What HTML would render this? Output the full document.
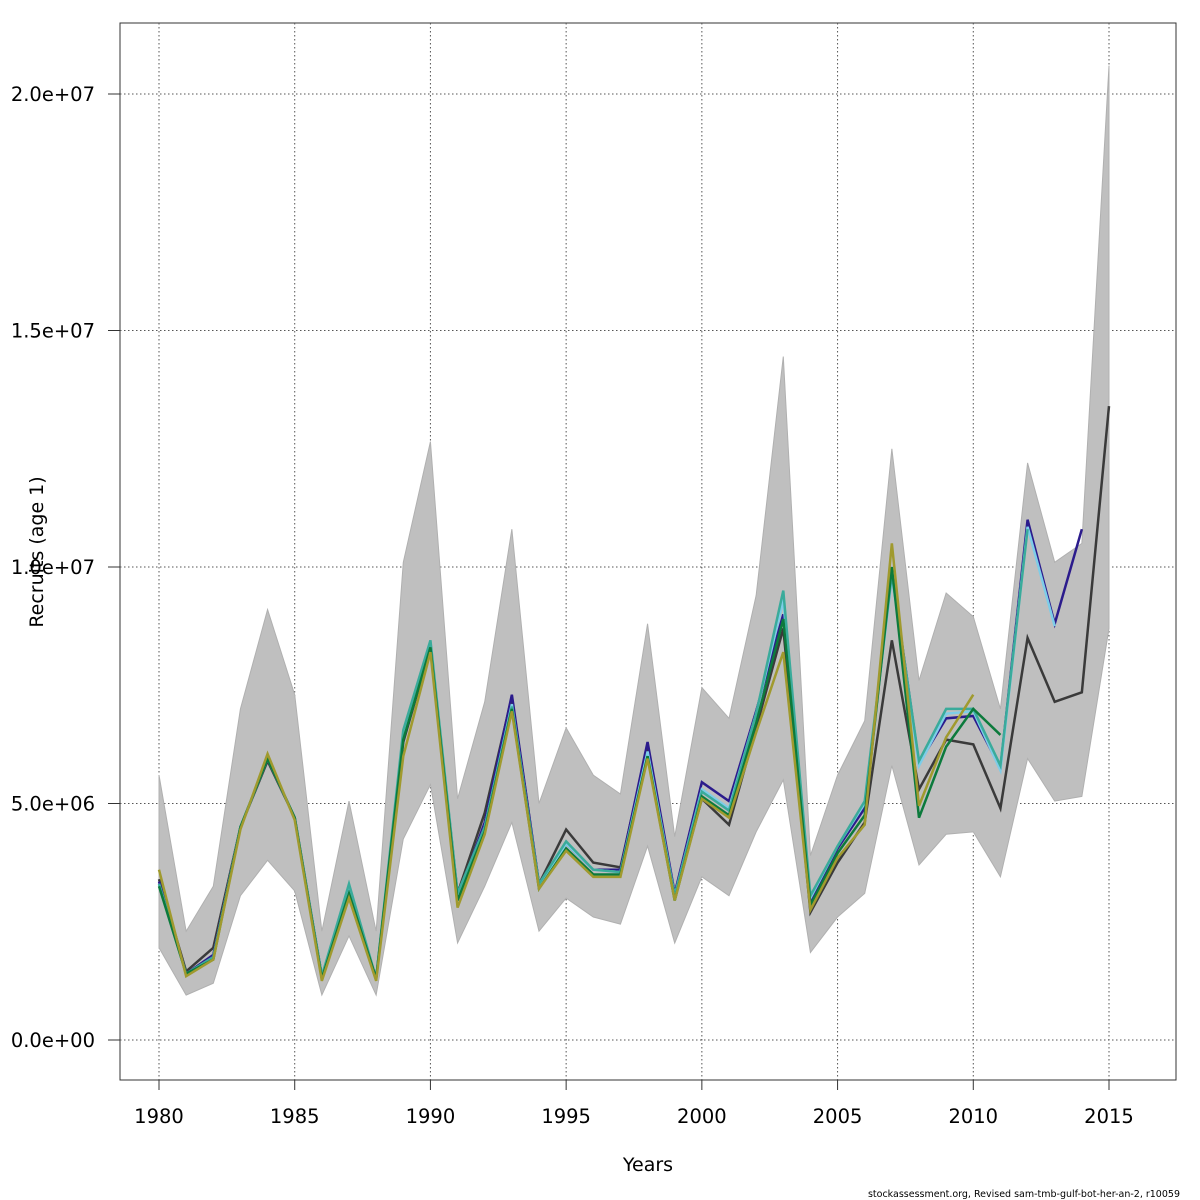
<!DOCTYPE html>
<html><head><meta charset="utf-8"><style>
html,body{margin:0;padding:0;background:#fff;width:1200px;height:1200px;overflow:hidden}
svg{display:block;font-family:"DejaVu Sans","Liberation Sans",sans-serif}
</style></head><body>
<svg id="chart" width="1200" height="1200">
<rect x="120" y="23" width="1056" height="1057" fill="#fff" stroke="#333" stroke-width="1"/>
<g id="grid"></g>
<g id="band"></g>
<g id="lines"></g>
<g id="axes"></g>
<text x="648" y="1171" font-size="19" text-anchor="middle">Years</text>
<text transform="translate(43,552) rotate(-90)" font-size="19" text-anchor="middle">Recruits (age 1)</text>
<text x="1180" y="1197" font-size="9.5" text-anchor="end">stockassessment.org, Revised  sam-tmb-gulf-bot-her-an-2, r10059</text>
</svg>
<script>
const years=[1980,1981,1982,1983,1984,1985,1986,1987,1988,1989,1990,1991,1992,1993,1994,1995,1996,1997,1998,1999,2000,2001,2002,2003,2004,2005,2006,2007,2008,2009,2010,2011,2012,2013,2014,2015];
const baseVals=[3.4,1.45,1.95,4.5,5.9,4.7,1.35,3.1,1.3,6.3,8.3,3.1,4.8,7.25,3.3,4.45,3.75,3.65,6.2,3.0,5.1,4.55,6.6,8.7,2.7,3.75,4.6,8.45,5.3,6.35,6.25,4.9,8.5,7.15,7.35,13.4];
const upperVals=[5.6,2.3,3.25,7.0,9.1,7.3,2.3,5.05,2.3,10.1,12.65,5.1,7.15,10.8,5.0,6.6,5.6,5.2,8.8,4.3,7.45,6.8,9.4,14.45,3.9,5.6,6.75,12.5,7.6,9.45,8.95,7.0,12.2,10.1,10.5,20.6];
const lowerVals=[1.95,0.95,1.2,3.05,3.8,3.15,0.95,2.2,0.95,4.25,5.4,2.05,3.25,4.6,2.3,3.0,2.6,2.45,4.1,2.05,3.45,3.05,4.4,5.5,1.85,2.6,3.1,5.8,3.7,4.35,4.4,3.45,5.95,5.05,5.15,8.7];
const navyVals=[3.35,1.4,1.8,4.5,5.95,4.7,1.35,3.15,1.3,6.4,8.35,3.0,4.6,7.3,3.3,4.15,3.6,3.6,6.3,3.1,5.45,5.05,6.95,9.0,2.95,4.05,4.9,9.9,5.85,6.8,6.85,5.75,11.0,8.8,10.8];
const lightblueVals=[3.3,1.4,1.75,4.5,5.95,4.7,1.35,3.2,1.3,6.5,8.4,3.05,4.5,7.1,3.25,4.15,3.6,3.55,6.1,3.05,5.3,4.9,6.9,9.3,3.0,4.1,5.0,9.8,5.8,6.9,6.95,5.7,10.85,8.75];
const tealVals=[3.3,1.4,1.75,4.5,5.95,4.7,1.35,3.3,1.3,6.55,8.45,3.1,4.5,7.05,3.3,4.2,3.6,3.55,6.0,3.05,5.25,4.85,6.9,9.5,3.05,4.1,5.05,9.85,5.9,7.0,7.0,5.8,10.8];
const greenVals=[3.25,1.4,1.7,4.5,5.95,4.7,1.3,3.1,1.3,6.35,8.3,2.95,4.4,7.0,3.2,4.05,3.5,3.5,6.0,2.95,5.15,4.75,6.7,8.9,2.85,3.95,4.75,10.0,4.7,6.2,7.0,6.45];
const oliveVals=[3.6,1.35,1.7,4.45,6.05,4.65,1.25,3.0,1.25,6.0,8.2,2.8,4.35,6.95,3.2,4.0,3.45,3.45,5.95,2.95,5.1,4.7,6.5,8.2,2.75,3.85,4.55,10.5,4.95,6.4,7.3];
const xTicks=[1980,1985,1990,1995,2000,2005,2010,2015];
const yTicks=[0,5,10,15,20];
const yTickLabels=["0.0e+00","5.0e+06","1.0e+07","1.5e+07","2.0e+07"];

const NS="http://www.w3.org/2000/svg";
function xs(y){return 159+(y-1980)*(1109-159)/35;}
function ys(v){return 1040-v*(1040-94)/20;}
function mk(tag,attrs,parent){const e=document.createElementNS(NS,tag);for(const k in attrs)e.setAttribute(k,attrs[k]);parent.appendChild(e);return e;}
const grid=document.getElementById('grid'),axes=document.getElementById('axes'),band=document.getElementById('band'),lines=document.getElementById('lines');
xTicks.forEach(t=>{
  const l=mk('line',{x1:xs(t),x2:xs(t),y1:23,y2:1080,stroke:'#555','stroke-dasharray':'1.5,2.5','stroke-width':1},grid);
  
  
  const tk=mk('line',{x1:xs(t),x2:xs(t),y1:1080,y2:1090,stroke:'#333'},axes);
  
  
  const tx=mk('text',{x:xs(t),y:1123,'font-size':19.5,'text-anchor':'middle'},axes);
  tx.textContent=t;
  
  
});
yTicks.forEach((t,i)=>{
  const l=mk('line',{x1:120,x2:1176,y1:ys(t),y2:ys(t),stroke:'#555','stroke-dasharray':'1.5,2.5','stroke-width':1},grid);
  
  
  const tk=mk('line',{x1:108,x2:120,y1:ys(t),y2:ys(t),stroke:'#333'},axes);
  
  
  const tx=mk('text',{x:95,y:ys(t)+7,'font-size':19.5,'text-anchor':'end'},axes);
  tx.textContent=yTickLabels[i];
  
  
});
let pts=years.map((y,i)=>xs(y)+','+ys(upperVals[i]));
for(let i=years.length-1;i>=0;i--)pts.push(xs(years[i])+','+ys(lowerVals[i]));
const poly=mk('polygon',{points:pts.join(' '),fill:'#bfbfbf',stroke:'#b0b0b0','stroke-width':1},band);


function line(vals,color,w,name){
  const p=mk('polyline',{points:vals.map((v,i)=>xs(years[i])+','+ys(v)).join(' '),fill:'none',stroke:color,'stroke-width':w,'stroke-linejoin':'miter'},lines);
  
  
}
line(baseVals,'#3a3a3a',2.5,'base-estimate-line');
line(navyVals,'#2b1b8c',2.5,'retro-2014-line');
line(lightblueVals,'#7ecde8',2.5,'retro-2013-line');
line(tealVals,'#3aab9b',2.5,'retro-2012-line');
line(greenVals,'#0c7a3c',2.5,'retro-2011-line');
line(oliveVals,'#a09a2e',2.5,'retro-2010-line');
</script>
</body></html>
